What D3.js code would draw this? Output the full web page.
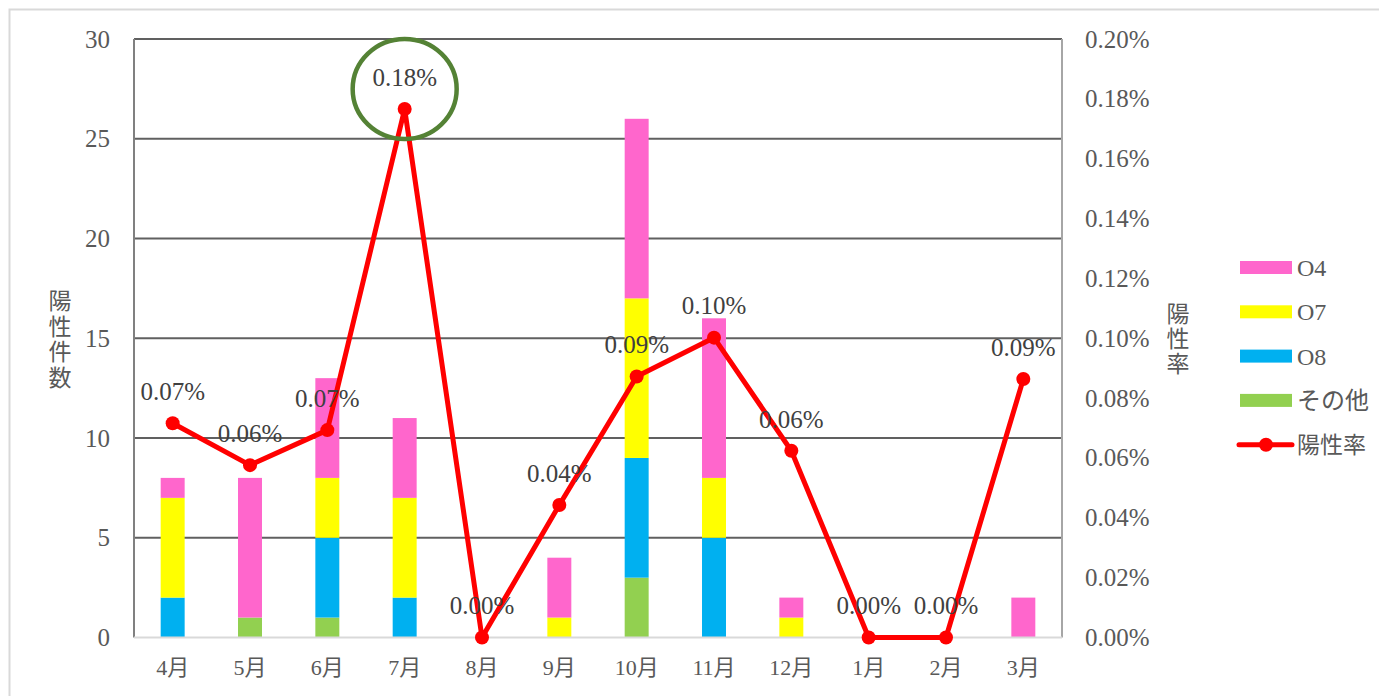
<!DOCTYPE html>
<html><head><meta charset="utf-8">
<script src="https://cdn.jsdelivr.net/npm/d3@7"></script>
<style>body{margin:0;background:#fff;overflow:hidden}</style>
</head><body><svg id="c" width="1379" height="696"></svg>
<script>
const months = ["4月","5月","6月","7月","8月","9月","10月","11月","12月","1月","2月","3月"];
const seriesNames = ["その他","O8","O7","O4"];
const other = [0,1,1,0,0,0,3,0,0,0,0,0];
const o8    = [2,0,4,2,0,0,6,5,0,0,0,0];
const o7    = [5,0,3,5,0,1,8,3,1,0,0,0];
const o4    = [1,7,5,4,0,3,9,8,1,0,0,2];
const rate  = [0.000716,0.000576,0.000693,0.001766,0,0.000443,0.000872,0.001002,0.000624,0,0,0.000864];
const leftTicks = [0,5,10,15,20,25,30];
const rightTicks = [0,0.0002,0.0004,0.0006,0.0008,0.001,0.0012,0.0014,0.0016,0.0018,0.002];
const lineName = "陽性率";
const leftTitle = "陽性件数";
const rightTitle = "陽性率";
const highlightIndex = 3;

const colors = {"その他":"#92d050","O8":"#00b0f0","O7":"#ffff00","O4":"#ff66cc"};
const FONT = "'Liberation Serif','Noto Sans CJK JP',serif";
const TXT = "#595959";

const svg = d3.select("#c");
const L = 134, R = 1062, T = 39, B = 637.5;

svg.append("rect").attr("x",9.5).attr("y",9.5).attr("width",1400).attr("height",700)
  .attr("fill","none").attr("stroke","#d9d9d9").attr("stroke-width",2);

const x = d3.scaleBand().domain(months).range([L,R]).padding(0);
const yL = d3.scaleLinear().domain([0,30]).range([B,T]);
const yR = d3.scaleLinear().domain([0,0.002]).range([B,T]);
const bw = x.bandwidth()*0.31;
const cx = m => x(m) + x.bandwidth()/2;

// gridlines
svg.append("g").selectAll("line").data(leftTicks.filter(d=>d>0)).join("line")
  .attr("x1",L).attr("x2",R).attr("y1",d=>yL(d)).attr("y2",d=>yL(d))
  .attr("stroke","#606060").attr("stroke-width",2);

// stacked bars
const table = months.map((m,i)=>({month:m,"その他":other[i],"O8":o8[i],"O7":o7[i],"O4":o4[i]}));
const stack = d3.stack().keys(seriesNames)(table);
svg.append("g").selectAll("g").data(stack).join("g").attr("fill",s=>colors[s.key])
  .selectAll("rect").data(s=>s).join("rect")
  .attr("x",d=>cx(d.data.month)-bw/2).attr("width",bw)
  .attr("y",d=>yL(d[1])).attr("height",d=>yL(d[0])-yL(d[1]));

// axes lines
svg.append("line").attr("x1",L).attr("x2",L).attr("y1",T).attr("y2",B).attr("stroke","#808080").attr("stroke-width",2);
svg.append("line").attr("x1",R).attr("x2",R).attr("y1",T).attr("y2",B).attr("stroke","#a6a6a6").attr("stroke-width",2);
svg.append("line").attr("x1",L).attr("x2",R).attr("y1",B).attr("y2",B).attr("stroke","#d9d9d9").attr("stroke-width",2);

// left axis
const gl = svg.append("g").attr("transform",`translate(${L},0)`)
  .call(d3.axisLeft(yL).tickValues(leftTicks).tickSize(0).tickPadding(24));
gl.select(".domain").remove();
gl.selectAll("text").attr("font-family",FONT).attr("font-size",25).attr("fill",TXT);

// right axis
const gr = svg.append("g").attr("transform",`translate(${R},0)`)
  .call(d3.axisRight(yR).tickValues(rightTicks).tickFormat(d3.format(".2%")).tickSize(0).tickPadding(23));
gr.select(".domain").remove();
gr.selectAll("text").attr("font-family",FONT).attr("font-size",25).attr("fill",TXT);

// x axis
const gx = svg.append("g").attr("transform",`translate(0,${B})`)
  .call(d3.axisBottom(x).tickSize(0).tickPadding(22));
gx.select(".domain").remove();
gx.selectAll("text").attr("font-family",FONT).attr("font-size",22).attr("fill",TXT);

// axis titles (vertical)
svg.append("g").selectAll("text").data(Array.from(leftTitle)).join("text")
  .attr("x",60).attr("y",(d,i)=>301+i*25.6).attr("dy","0.35em").attr("text-anchor","middle")
  .attr("font-family",FONT).attr("font-size",23).attr("fill",TXT).text(d=>d);
svg.append("g").selectAll("text").data(Array.from(rightTitle)).join("text")
  .attr("x",1178).attr("y",(d,i)=>314+i*25).attr("dy","0.35em").attr("text-anchor","middle")
  .attr("font-family",FONT).attr("font-size",23).attr("fill",TXT).text(d=>d);

// line
const pts = months.map((m,i)=>[cx(m), yR(rate[i])]);
svg.append("path").attr("d",d3.line()(pts)).attr("fill","none").attr("stroke","#ff0000")
  .attr("stroke-width",5).attr("stroke-linejoin","round");
svg.append("g").selectAll("circle").data(pts).join("circle")
  .attr("cx",d=>d[0]).attr("cy",d=>d[1]).attr("r",7).attr("fill","#ff0000");

// data labels
svg.append("g").selectAll("text").data(months).join("text")
  .attr("x",m=>cx(m)).attr("y",(m,i)=>yR(rate[i])-32).attr("dy","0.35em").attr("text-anchor","middle")
  .attr("font-family",FONT).attr("font-size",25).attr("fill","#404040")
  .text((m,i)=>d3.format(".2%")(rate[i]));

// highlight circle
svg.append("ellipse").attr("cx",cx(months[highlightIndex])).attr("cy",yR(rate[highlightIndex])-20)
  .attr("rx",52).attr("ry",50).attr("fill","none").attr("stroke","#548235").attr("stroke-width",4.5);

// legend
const legendItems = ["O4","O7","O8","その他"];
const lg = svg.append("g");
legendItems.forEach((k,i)=>{
  const yy = 267.5 + i*44.3;
  lg.append("rect").attr("x",1240).attr("y",yy-6.5).attr("width",52).attr("height",13).attr("fill",colors[k]);
  lg.append("text").attr("x",1297).attr("y",yy).attr("dy","0.35em").attr("font-family",FONT)
    .attr("font-size",24).attr("fill",TXT).text(k);
});
const ly = 267.5 + 4*44.3;
lg.append("line").attr("x1",1239).attr("x2",1292).attr("y1",ly).attr("y2",ly).attr("stroke","#ff0000").attr("stroke-width",5).attr("stroke-linecap","round");
lg.append("circle").attr("cx",1266).attr("cy",ly).attr("r",7).attr("fill","#ff0000");
lg.append("text").attr("x",1297).attr("y",ly).attr("dy","0.35em").attr("font-family",FONT)
  .attr("font-size",23).attr("fill",TXT).text(lineName);
</script></body></html>
